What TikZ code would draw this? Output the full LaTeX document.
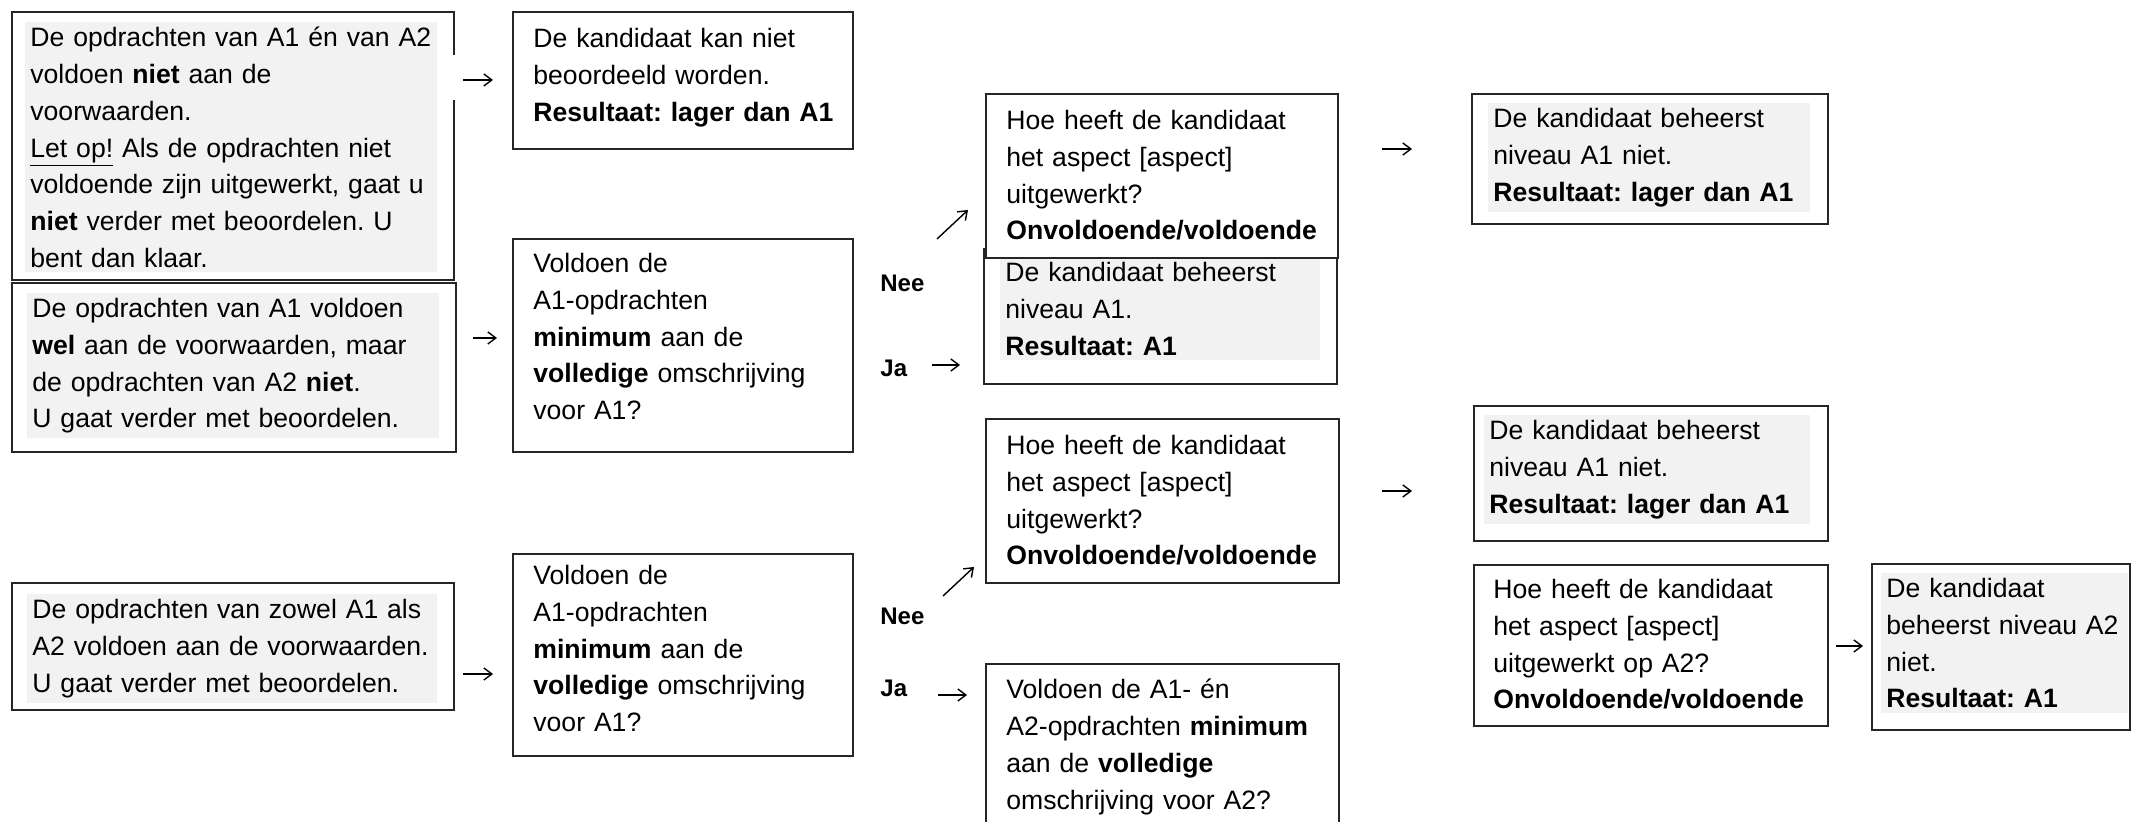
\documentclass[tikz,border=0pt]{standalone}
\usepackage{fontspec}
\setmainfont{Liberation Sans}
\usetikzlibrary{arrows.meta,positioning}
\definecolor{boxgrey}{RGB}{242,242,242}
\newcommand{\boxfont}{\fontsize{13.3}{18.35}\selectfont}
\frenchspacing

\begin{document}
\begin{tikzpicture}[x=0.5pt,y=-0.5pt,% one unit = one pixel of the scan
        frame/.style={draw=black!85,line width=1pt,anchor=north west,inner sep=0pt},% outer box
        tekst/.style={anchor=north west,align=left,inner xsep=2.5pt,inner ysep=2.5pt,font=\boxfont},
        grijs/.style={tekst,fill=boxgrey},% shaded text block
        keuze/.style={anchor=west,inner sep=0pt,font=\fontsize{12}{14}\selectfont\bfseries},
        pijl/.style={line width=0.7pt,-{Straight Barb[length=4pt,width=6pt]}}]
\useasboundingbox (0,0) rectangle (2132,822);
\clip (0,0) rectangle (2132,822);

% left column: the three starting situations
\node[frame,minimum width=221pt,minimum height=134pt] (geen) at (11,11) {};
\fill[white] (449,55) rectangle (458,100);
\node[grijs,text width=201pt] (geentxt) at (25,22) {De opdrachten van A1 én van A2\\ voldoen \textbf{niet} aan de\\ voorwaarden.\\ \underline{Let op!} Als de opdrachten niet\\ voldoende zijn uitgewerkt, gaat u\\ \textbf{niet} verder met beoordelen. U\\ bent dan klaar.};

\node[frame,minimum width=222pt,minimum height=84.5pt] (alleenA1) at (11,282) {};
\node[grijs,text width=201pt] (alleenA1txt) at (27,293) {De opdrachten van A1 voldoen\\ \textbf{wel} aan de voorwaarden, maar\\ de opdrachten van A2 \textbf{niet}.\\ U gaat verder met beoordelen.};

\node[frame,minimum width=221pt,minimum height=63.5pt] (beide) at (11,582) {};
\node[grijs,text width=200pt] (beidetxt) at (27,594) {De opdrachten van zowel A1 als\\ A2 voldoen aan de voorwaarden.\\ U gaat verder met beoordelen.};

% second column
\node[frame,minimum width=170pt,minimum height=68.5pt] (nietbeoord) at (512,11) {};
\node[tekst,text width=160pt] (nietbeoordtxt) at (528,23) {De kandidaat kan niet\\ beoordeeld worden.\\ \textbf{Resultaat: lager dan A1}};

\node[frame,minimum width=170pt,minimum height=106.5pt] (vraagA1) at (512,238) {};
\node[tekst,text width=160pt] (vraagA1txt) at (528,248) {Voldoen de\\ A1-opdrachten\\ \textbf{minimum} aan de\\ \textbf{volledige} omschrijving\\ voor A1?};

\node[frame,minimum width=170pt,minimum height=101pt] (vraagA1b) at (512,553) {};
\node[tekst,text width=160pt] (vraagA1btxt) at (528,560) {Voldoen de\\ A1-opdrachten\\ \textbf{minimum} aan de\\ \textbf{volledige} omschrijving\\ voor A1?};

% Nee / Ja choices
\node[keuze] (nee1) at (880,283) {Nee};
\node[keuze] (ja1) at (880,368) {Ja};
\node[keuze] (nee2) at (880,616) {Nee};
\node[keuze] (ja2) at (880,688) {Ja};

% third column
\node[frame,minimum width=176.5pt,minimum height=67.5pt] (nivA1) at (983,248) {};
\node[grijs,text width=155pt] (nivA1txt) at (1000,257) {De kandidaat beheerst\\ niveau A1.\\ \textbf{Resultaat: A1}};

\node[frame,fill=white,minimum width=176pt,minimum height=82pt] (hoeA1) at (985,93) {};
\node[tekst,text width=165pt] (hoeA1txt) at (1001,105) {Hoe heeft de kandidaat\\ het aspect [aspect]\\ uitgewerkt?\\ \textbf{Onvoldoende/voldoende}};

\node[frame,minimum width=176.5pt,minimum height=82pt] (hoeA1b) at (985,418) {};
\node[tekst,text width=165pt] (hoeA1btxt) at (1001,430) {Hoe heeft de kandidaat\\ het aspect [aspect]\\ uitgewerkt?\\ \textbf{Onvoldoende/voldoende}};

\node[frame,minimum width=176.5pt,minimum height=103.5pt] (vraagA2) at (985,663) {};
\node[tekst,text width=165pt] (vraagA2txt) at (1001,674) {Voldoen de A1- én\\ A2-opdrachten \textbf{minimum}\\ aan de \textbf{volledige}\\ omschrijving voor A2?};

% fourth column
\node[frame,minimum width=178pt,minimum height=65pt] (nietA1) at (1471,93) {};
\node[grijs,text width=156pt] (nietA1txt) at (1488,103) {De kandidaat beheerst\\ niveau A1 niet.\\ \textbf{Resultaat: lager dan A1}};

\node[frame,minimum width=177pt,minimum height=67.5pt] (nietA1b) at (1473,405) {};
\node[grijs,text width=158pt] (nietA1btxt) at (1484,415) {De kandidaat beheerst\\ niveau A1 niet.\\ \textbf{Resultaat: lager dan A1}};

\node[frame,minimum width=177pt,minimum height=80.5pt] (hoeA2) at (1473,564) {};
\node[tekst,text width=165pt] (hoeA2txt) at (1488,574) {Hoe heeft de kandidaat\\ het aspect [aspect]\\ uitgewerkt op A2?\\ \textbf{Onvoldoende/voldoende}};

\node[frame,minimum width=129pt,minimum height=83pt] (nietA2) at (1871,563) {};
\node[grijs,text width=118.5pt] (nietA2txt) at (1881,573) {De kandidaat\\ beheerst niveau A2\\ niet.\\ \textbf{Resultaat: A1}};

% the small arrow signs
\foreach \n/\xa/\xb/\ya/\yb in {1/463/493/80/80,2/473/497/338/338,3/463/493/674/674,
        4/937/968/239/210,5/932/960/365/365,6/1382/1412/149/149,7/943/974/596/567,
        8/938/967/695/695,9/1382/1412/491/491,10/1836/1863/646/646}{
  \coordinate (pv\n) at (\xa,\ya);
  \coordinate (pn\n) at (\xb,\yb);
  \draw[pijl] (pv\n) -- (pn\n);
}
\end{tikzpicture}
\end{document}
